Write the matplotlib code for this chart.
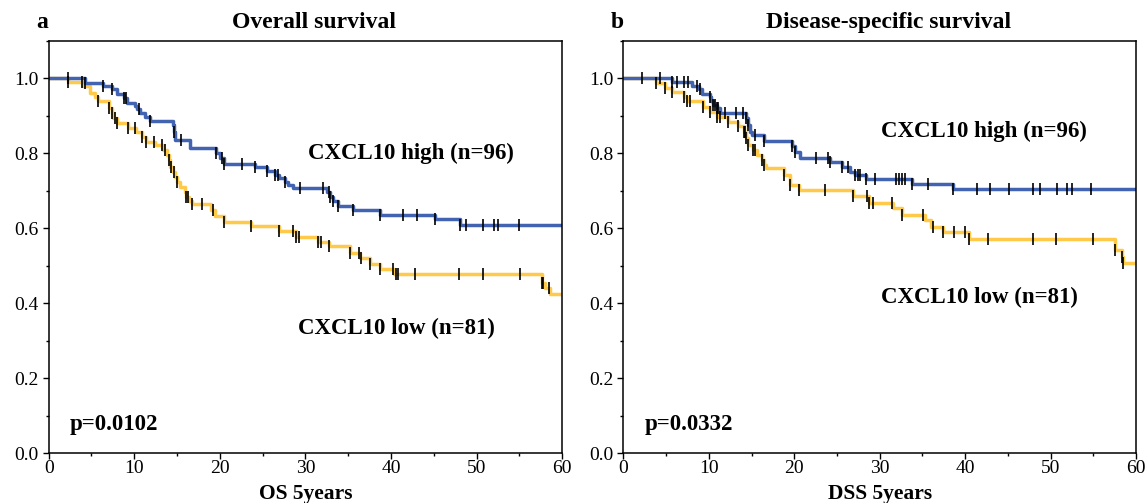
import numpy as np
import matplotlib
matplotlib.use('Agg')
import matplotlib.pyplot as plt
from matplotlib.ticker import MultipleLocator

plt.rcParams['font.family'] = ['Liberation Serif', 'DejaVu Serif']

# Overall survival, CXCL10 high
os_high_t = [4.3, 6.3, 7.4, 8.0, 8.8, 9.1, 10.1, 10.3, 10.7, 11.2, 11.8, 14.5, 14.6, 14.8, 16.5,
             19.5, 20.0, 20.5, 24.1, 25.5, 26.4, 26.9, 27.6, 28.0, 28.5, 32.5, 32.9, 33.2, 33.8,
             35.6, 38.7, 45.1, 48.0]
os_high_s = [0.988, 0.978, 0.970, 0.959, 0.947, 0.934, 0.925, 0.917, 0.907, 0.897, 0.886, 0.875,
             0.857, 0.835, 0.813, 0.800, 0.786, 0.771, 0.762, 0.753, 0.742, 0.733, 0.724, 0.715,
             0.706, 0.697, 0.684, 0.671, 0.659, 0.649, 0.635, 0.624, 0.608]
os_high_c = [2.2, 4.3, 6.3, 7.4, 8.8, 9.0, 10.5, 11.8, 14.6, 15.4, 19.5, 20.2, 20.5, 22.6, 24.1,
             25.5, 26.4, 26.8, 27.6, 29.4, 32.0, 32.7, 32.9, 33.2, 33.8, 35.6, 38.7, 41.4, 43.0,
             45.1, 48.0, 48.8, 50.7, 52.0, 52.5, 54.9]

# Overall survival, CXCL10 low
os_low_t = [2.2, 4.0, 4.8, 5.4, 5.8, 7.1, 7.4, 7.5, 8.0, 9.3, 10.2, 10.9, 11.4, 12.4, 13.4, 13.8,
            14.0, 14.2, 14.5, 14.8, 15.0, 15.3, 15.9, 16.1, 16.4, 16.7, 19.0, 19.4, 20.5, 23.6,
            26.9, 28.9, 31.5, 32.7, 35.2, 36.4, 37.5, 38.7, 40.3, 57.6, 58.0, 58.6]
os_low_s = [0.989, 0.979, 0.960, 0.951, 0.938, 0.920, 0.907, 0.893, 0.880, 0.867, 0.857, 0.844,
            0.831, 0.822, 0.809, 0.795, 0.782, 0.764, 0.751, 0.737, 0.724, 0.711, 0.697, 0.684,
            0.671, 0.665, 0.649, 0.631, 0.615, 0.606, 0.591, 0.577, 0.564, 0.551, 0.533, 0.520,
            0.504, 0.491, 0.478, 0.453, 0.440, 0.424]
os_low_c = [2.2, 3.9, 5.8, 7.1, 7.4, 7.7, 8.0, 9.3, 10.1, 10.9, 11.4, 12.3, 13.2, 13.6, 14.1, 14.3,
            14.6, 15.0, 16.1, 16.3, 16.8, 17.9, 19.2, 20.5, 23.6, 26.9, 28.5, 28.9, 29.2, 31.5,
            31.8, 32.7, 35.2, 36.2, 36.5, 37.5, 38.7, 40.2, 40.6, 40.8, 42.8, 47.9, 50.7, 55.1,
            57.6, 57.8, 58.5]

# Disease-specific survival, CXCL10 high
dss_high_t = [5.7, 8.0, 8.9, 9.2, 10.1, 10.3, 10.5, 10.9, 11.3, 14.4, 14.6, 14.8, 15.0, 16.5, 19.7,
              20.1, 20.7, 24.2, 25.6, 26.5, 27.1, 28.4, 33.8, 38.6]
dss_high_s = [0.990, 0.979, 0.971, 0.958, 0.951, 0.938, 0.929, 0.920, 0.907, 0.893, 0.875, 0.857,
              0.849, 0.833, 0.819, 0.804, 0.786, 0.777, 0.762, 0.751, 0.742, 0.730, 0.717, 0.705]
dss_high_c = [2.2, 4.3, 5.7, 6.3, 7.1, 7.6, 8.6, 9.0, 10.1, 10.5, 10.7, 10.9, 11.1, 11.9, 13.2,
              14.0, 14.4, 14.6, 15.4, 16.5, 19.7, 20.1, 22.6, 24.0, 24.2, 25.6, 26.3, 27.1, 27.5,
              27.7, 28.4, 29.5, 31.9, 32.3, 32.6, 33.0, 33.8, 35.7, 38.6, 41.4, 42.9, 45.1, 47.9,
              48.8, 50.7, 51.9, 52.5, 54.7]

# Disease-specific survival, CXCL10 low
dss_low_t = [3.8, 4.9, 5.7, 7.1, 7.4, 9.3, 10.1, 10.9, 12.2, 13.4, 14.1, 14.4, 14.6, 15.2, 15.6,
             16.2, 16.5, 16.7, 18.8, 19.5, 20.5, 26.9, 28.8, 31.5, 32.6, 35.3, 36.0, 37.4, 40.5,
             57.5, 58.3, 58.5]
dss_low_s = [0.987, 0.973, 0.963, 0.949, 0.938, 0.924, 0.911, 0.897, 0.884, 0.873, 0.857, 0.840,
             0.822, 0.809, 0.795, 0.782, 0.769, 0.760, 0.742, 0.715, 0.702, 0.686, 0.668, 0.653,
             0.635, 0.622, 0.604, 0.589, 0.570, 0.542, 0.524, 0.506]
dss_low_c = [3.8, 4.9, 5.7, 7.1, 7.4, 7.8, 9.3, 10.1, 10.9, 11.3, 12.2, 13.4, 14.1, 14.2, 14.4,
             14.6, 15.2, 15.4, 16.2, 16.5, 18.8, 19.5, 20.5, 23.6, 26.9, 28.5, 28.8, 29.2, 31.4,
             32.6, 35.1, 36.2, 37.4, 38.7, 40.0, 40.5, 42.7, 47.9, 50.6, 55.0, 57.5, 58.3, 58.5]

panels = [
    ('a', 'Overall survival', 'OS 5years', 'p=0.0102',
     (os_high_t, os_high_s, os_high_c), (os_low_t, os_low_s, os_low_c),
     (42.3, 0.80), (40.6, 0.331)),
    ('b', 'Disease-specific survival', 'DSS 5years', 'p=0.0332',
     (dss_high_t, dss_high_s, dss_high_c), (dss_low_t, dss_low_s, dss_low_c),
     (42.2, 0.857), (41.7, 0.416)),
]

blue = '#4262B2'
yellow = '#FFC949'


def km(ax, t, s, c, color):
    tt = np.concatenate([[0], t, [60]])
    ss = np.concatenate([[1.0], s, [s[-1]]])
    ax.step(tt, ss, where='post', color=color, lw=2.5, zorder=2)
    c = np.array(c)
    idx = np.searchsorted(tt, c, side='right') - 1
    ax.plot(c, ss[idx], ls='none', marker='|', color='black', ms=9, mew=1.2, zorder=3)


fig = plt.figure(figsize=(11.48, 5.03), dpi=100)
boxes = [[0.0424, 0.0994, 0.4474, 0.8197], [0.5430, 0.0994, 0.4466, 0.8197]]

for box, (letter, title, xlab, ptxt, high, low, hpos, lpos) in zip(boxes, panels):
    ax = fig.add_axes(box)
    km(ax, *low, yellow)
    km(ax, *high, blue)
    ax.set_xlim(0, 60)
    ax.set_ylim(0, 1.1)
    ax.set_xticks(range(0, 61, 10))
    ax.set_yticks(np.arange(0, 1.01, 0.2))
    ax.set_yticklabels(['%.1f' % v for v in np.arange(0, 1.01, 0.2)])
    ax.xaxis.set_minor_locator(MultipleLocator(5))
    ax.yaxis.set_minor_locator(MultipleLocator(0.1))
    ax.tick_params(which='major', direction='out', length=4, width=1, labelsize=14)
    ax.tick_params(which='minor', direction='out', length=2.5, width=1)
    ax.tick_params(axis='x', pad=1)
    ax.tick_params(axis='y', pad=3)
    for sp in ax.spines.values():
        sp.set_linewidth(1.1)
    ax.set_xlabel(xlab, fontsize=15.5, fontweight='bold', labelpad=5)
    ax.text(0.517, 1.045, title, transform=ax.transAxes, ha='center', va='center',
            fontsize=17, fontweight='bold')
    ax.text(-0.012, 1.045, letter, transform=ax.transAxes, ha='center', va='center',
            fontsize=17, fontweight='bold')
    ax.text(hpos[0], hpos[1], 'CXCL10 high (n=96)', ha='center', va='center',
            fontsize=16.5, fontweight='bold')
    ax.text(lpos[0], lpos[1], 'CXCL10 low (n=81)', ha='center', va='center',
            fontsize=16.5, fontweight='bold')
    ax.text(2.5, 0.077, ptxt, ha='left', va='center', fontsize=16.5, fontweight='bold')

fig.savefig('out.png', dpi=100)
